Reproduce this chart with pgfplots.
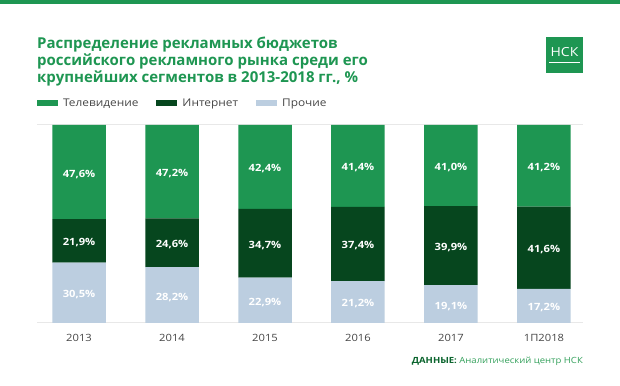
\documentclass[border=0pt]{standalone}
\usepackage{pgfplots}
\pgfplotsset{compat=1.18}
\usepackage{pgfplotstable}
\usepackage{fontspec}
\setmainfont{Open Sans}[FakeStretch=1.12]
\newfontfamily\titlefont{Open Sans}[FakeStretch=1.0]
\definecolor{tvgreen}{RGB}{30,150,82}
\definecolor{netgreen}{RGB}{6,70,30}
\definecolor{othblue}{RGB}{188,206,224}
\definecolor{titlegreen}{RGB}{30,150,82}
\definecolor{txtgrey}{RGB}{70,70,70}
\definecolor{gridgrey}{RGB}{232,232,232}
\definecolor{srcdark}{RGB}{10,100,45}
\definecolor{srcgreen}{RGB}{50,160,90}
\pgfplotstableread{
x oth net tv
0 30.5 21.9 47.6
1 28.2 24.6 47.2
2 22.9 34.7 42.4
3 21.2 37.4 41.4
4 19.1 39.9 41.0
5 17.2 41.6 41.2
}\shares
\pgfplotstableread{
x y v
0 15.25 30.5
1 14.1 28.2
2 11.45 22.9
3 10.6 21.2
4 9.55 19.1
5 8.6 17.2
0 41.45 21.9
1 40.5 24.6
2 40.25 34.7
3 39.9 37.4
4 39.05 39.9
5 38.0 41.6
0 76.2 47.6
1 76.4 47.2
2 78.8 42.4
3 79.3 41.4
4 79.5 41.0
5 79.4 41.2
}\labelpos
\begin{document}
\begin{tikzpicture}[x=1pt,y=1pt]
\fill[white] (0,0) rectangle (620,385);
\fill[tvgreen] (0,381) rectangle (620,385);
\node[anchor=north west, align=left, font=\titlefont\bfseries\fontsize{15}{17}\selectfont, text=titlegreen, inner sep=0pt] at (37,348) {Распределение рекламных бюджетов\\российского рекламного рынка среди его\\крупнейших сегментов в 2013-2018 гг., \%};
\fill[tvgreen] (546,312) rectangle (583,348);
\node[text=white, font=\fontsize{12.5}{14}\selectfont, inner sep=0pt] at (564.5,332.5) {НСК};
\draw[white, line width=0.8pt] (549,323) -- (580,323);
\node[anchor=east, inner sep=0pt, font=\fontsize{8.5}{10}\selectfont] at (583,24) {\textcolor{srcdark}{\bfseries ДАННЫЕ:} \textcolor{srcgreen}{Аналитический центр НСК}};
\begin{axis}[
  at={(37pt,62pt)}, anchor=south west, scale only axis,
  width=546pt, height=198pt,
  xmin=-0.452, xmax=5.42, ymin=0, ymax=100,
  ybar stacked, bar width=53.5pt,
  axis line style={draw=none},
  ytick={0,100}, yticklabels={}, ymajorgrids,
  grid style={gridgrey, line width=1pt},
  major tick length=0pt,
  xtick={0,1,2,3,4,5},
  xticklabels={2013,2014,2015,2016,2017,1П2018},
  xticklabel style={anchor=center, yshift=-15pt, text=txtgrey, font=\fontsize{10}{12}\selectfont},
  legend columns=3,
  legend style={at={(0,1.111)}, anchor=west, draw=none, fill=none, inner sep=0pt,
    font=\fontsize{10.6}{12}\selectfont, text=txtgrey,
    /tikz/every even column/.append style={column sep=16pt},
    /tikz/every odd column/.append style={column sep=3pt}},
  legend image code/.code={\fill[#1] (0pt,-3pt) rectangle (21pt,3pt);},
]
\addlegendimage{fill=tvgreen, draw=none}
\addlegendentry{Телевидение}
\addlegendimage{fill=netgreen, draw=none}
\addlegendentry{Интернет}
\addlegendimage{fill=othblue, draw=none}
\addlegendentry{Прочие}
\addplot[fill=othblue, draw=none, forget plot] table[x=x, y=oth] {\shares};
\addplot[fill=netgreen, draw=none, forget plot] table[x=x, y=net] {\shares};
\addplot[fill=tvgreen, draw=none, forget plot] table[x=x, y=tv] {\shares};
\end{axis}
\begin{axis}[
  at={(37pt,62pt)}, anchor=south west, scale only axis,
  width=546pt, height=198pt,
  xmin=-0.452, xmax=5.42, ymin=0, ymax=100,
  hide axis,
]
\addplot[draw=none, mark=none, point meta=explicit,
  nodes near coords={\pgfmathprintnumber[fixed, fixed zerofill, precision=1, use comma, assume math mode=true]{\pgfplotspointmeta}\%},
  every node near coord/.style={anchor=center, yshift=-2pt, text=white, font=\bfseries\fontsize{10}{12}\selectfont}]
  table[x=x, y=y, meta=v] {\labelpos};
\end{axis}
\end{tikzpicture}
\end{document}
